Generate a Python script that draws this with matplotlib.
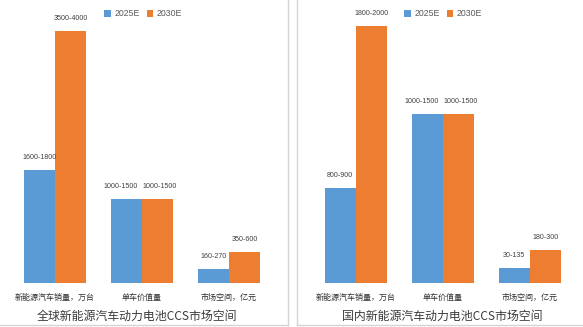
import matplotlib
matplotlib.use('Agg')
import matplotlib.pyplot as plt
import numpy as np
from matplotlib.lines import Line2D
from matplotlib.patches import Patch

plt.rcParams['font.family'] = ['Noto Sans CJK SC', 'DejaVu Sans']

# data (bar heights, labels as printed)
categories = ['新能源汽车销量，万台', '单车价值量', '市场空间，亿元']
series = ['2025E', '2030E']

global_2025 = [1800, 1333, 222]
global_2030 = [4000, 1333, 492]
global_2025_labels = ['1600-1800', '1000-1500', '160-270']
global_2030_labels = ['3500-4000', '1000-1500', '350-600']

china_2025 = [739, 1315, 117]
china_2030 = [2000, 1315, 257]
china_2025_labels = ['800-900', '1000-1500', '30-135']
china_2030_labels = ['1800-2000', '1000-1500', '180-300']

titles = ['全球新能源汽车动力电池CCS市场空间', '国内新能源汽车动力电池CCS市场空间']

blue = '#5B9BD5'
orange = '#ED7D31'

W, H = 583, 327
fig = plt.figure(figsize=(W / 100, H / 100), dpi=100)


def px(x0, y0, x1, y1):
    # pixel box (top-left origin) -> figure rect
    return [x0 / W, 1 - y1 / H, (x1 - x0) / W, (y1 - y0) / H]


def panel(rect, v1, v2, l1, l2, ymax, title, tx, leg_x):
    ax = fig.add_axes(rect)
    x = np.arange(len(categories))
    w = 0.36
    b1 = ax.bar(x - w / 2, v1, w, color=blue, edgecolor='none')
    b2 = ax.bar(x + w / 2, v2, w, color=orange, edgecolor='none')
    for k, (bars, labs) in enumerate(((b1, l1), (b2, l2))):
        for i, (b, t) in enumerate(zip(bars, labs)):
            dx = 0
            if v1[i] == v2[i]:
                # equal bars: labels sit side by side, push them apart a bit
                dx = -4 if k == 0 else 1.5
            ax.annotate(t, (b.get_x() + b.get_width() / 2, b.get_height()),
                        xytext=(dx, 9), textcoords='offset points',
                        ha='center', va='center', fontsize=5.1,
                        color='#404040', family=['Liberation Sans', 'DejaVu Sans'])
    ax.set_xlim(-0.5, 2.5)
    ax.set_ylim(0, ymax)
    ax.axis('off')
    for i, c in enumerate(categories):
        ax.text(i, -0.055 * ymax, c, ha='center', va='center', fontsize=5.8,
                color='#303030')
    fig.text(tx / W, 1 - 316 / H, title, ha='center', va='center',
             fontsize=8.6, color='#3a3a3a')
    handles = [Patch(facecolor=blue), Patch(facecolor=orange)]
    fig.legend(handles, series, loc='center', bbox_to_anchor=(leg_x / W, 1 - 14 / H),
               ncol=2, frameon=False, handlelength=0.75, handleheight=0.75,
               handletextpad=0.4, columnspacing=0.8,
               prop={'family': ['Liberation Sans', 'DejaVu Sans'], 'size': 6.3},
               labelcolor='#595959')
    return ax


panel(px(11.5, 17, 272.5, 283), global_2025, global_2030,
      global_2025_labels, global_2030_labels, 4000 * 266 / 252, titles[0], 137, 143)
panel(px(312.5, 17, 573.5, 283), china_2025, china_2030,
      china_2025_labels, china_2030_labels, 2000 * 266 / 257, titles[1], 442, 443)

# panel frames
gray = '#d4d4d4'
for xs, ys in [((288, 288), (0, 325)), ((0, 288), (325, 325)),
               ((297, 297), (0, 325)), ((297, 583), (325, 325))]:
    fig.add_artist(Line2D([x / W for x in xs], [1 - y / H for y in ys],
                          color=gray, lw=1))

plt.savefig('out.png', dpi=100)
